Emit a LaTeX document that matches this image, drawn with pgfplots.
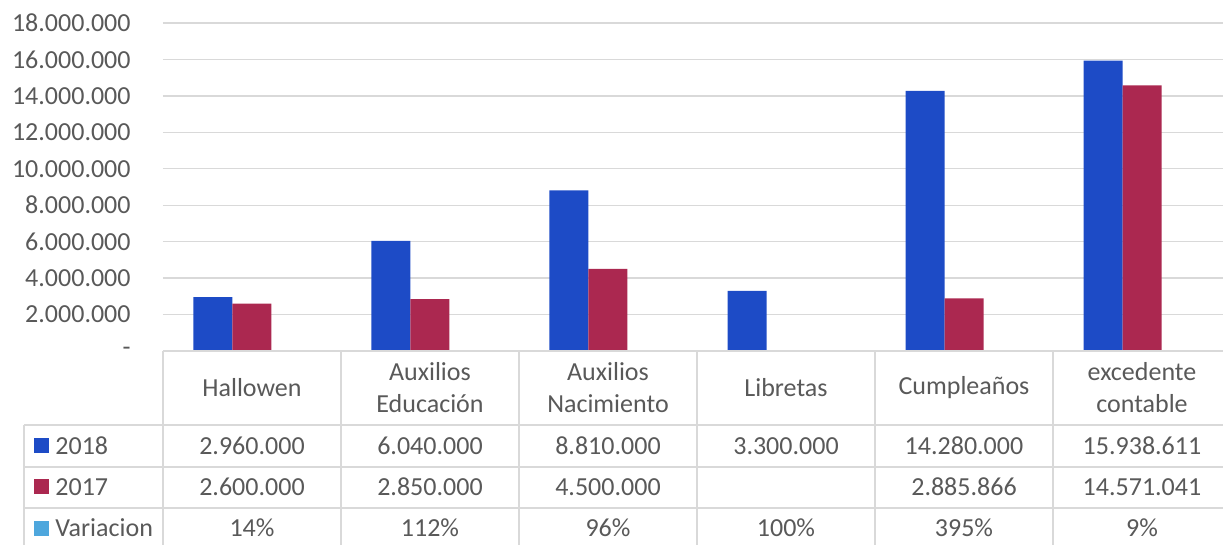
\documentclass[border=0pt]{standalone}
\usepackage{pgfplots}
\pgfplotsset{compat=1.18}
\usepackage{fontspec}
\setmainfont{Carlito}
\definecolor{txt}{HTML}{595959}
\definecolor{gridc}{HTML}{D9D9D9}
\definecolor{c18}{HTML}{1D4BC6}
\definecolor{c17}{HTML}{AB2850}
\definecolor{cvar}{HTML}{4EA7DD}
\begin{document}
\fontsize{13}{15.6}\selectfont
\begin{tikzpicture}
\path[use as bounding box] (0pt,0pt) rectangle (611.5pt,-272.5pt);
\begin{axis}[
  at={(81.5pt,-175.5pt)}, anchor=south west,
  scale only axis, width=534pt, height=164pt,
  xmin=-0.5, xmax=5.5, ymin=0, ymax=18000000,
  ybar=0pt, bar width=19.5pt,
  axis line style={draw=none},
  ymajorgrids, grid style={gridc, line width=0.7pt},
  ytick={0,2000000,4000000,6000000,8000000,10000000,12000000,14000000,16000000,18000000},
  yticklabels={{-\hspace{6.5pt}},2.000.000,4.000.000,6.000.000,8.000.000,10.000.000,12.000.000,14.000.000,16.000.000,18.000.000},
  xtick=\empty, major tick length=0,
  scaled y ticks=false,
  tick label style={font=\fontsize{13}{15.6}\selectfont, text=txt},
  yticklabel style={inner sep=0pt, anchor=east, xshift=-16pt},
  clip=false,
]
\addplot[fill=c18, draw=none] coordinates {(0,2960000) (1,6040000) (2,8810000) (3,3300000) (4,14280000) (5,15938611)};
\addplot[fill=c17, draw=none] coordinates {(0,2600000) (1,2850000) (2,4500000) (4,2885866) (5,14571041)};
\addplot[fill=cvar, draw=none] coordinates {(0,0.14) (1,1.12) (2,0.96) (3,1.00) (4,3.95) (5,0.09)};
\end{axis}
\begin{scope}[x=0.5pt,y=-0.5pt]
  % table lines
  \draw[gridc, line width=0.75pt] (163,351) -- (1240,351);
  \foreach \yy in {425,467,508} \draw[gridc, line width=0.75pt] (24,\yy) -- (1240,\yy);
  \draw[gridc, line width=0.75pt] (24,425) -- (24,560);
  \foreach \xx in {163,341,519,697,875,1053} \draw[gridc, line width=0.75pt] (\xx,351) -- (\xx,560);
  % header
  \begin{scope}[every node/.style={text=txt, inner sep=0pt}]
  \node at (252,388) {Hallowen};
  \node at (430,372) {Auxilios};
  \node at (430,404) {Educación};
  \node at (608,372) {Auxilios};
  \node at (608,404) {Nacimiento};
  \node at (786,388) {Libretas};
  \node at (964,388) {Cumpleaños};
  \node at (1142,372) {excedente};
  \node at (1142,404) {contable};
  % legend keys
  \fill[c18] (34,438) rectangle (49,453);
  \fill[c17] (34,479) rectangle (49,494);
  \fill[cvar] (34,521) rectangle (49,536);
  \node[anchor=west] at (55,446) {2018};
  \node[anchor=west] at (55,487) {2017};
  \node[anchor=west] at (55,528) {Variacion};
  % row 2018
  \node at (252,446) {2.960.000};
  \node at (430,446) {6.040.000};
  \node at (608,446) {8.810.000};
  \node at (786,446) {3.300.000};
  \node at (964,446) {14.280.000};
  \node at (1142,446) {15.938.611};
  % row 2017
  \node at (252,487) {2.600.000};
  \node at (430,487) {2.850.000};
  \node at (608,487) {4.500.000};
  \node at (964,487) {2.885.866};
  \node at (1142,487) {14.571.041};
  % row variacion
  \node at (252,528) {14\%};
  \node at (430,528) {112\%};
  \node at (608,528) {96\%};
  \node at (786,528) {100\%};
  \node at (964,528) {395\%};
  \node at (1142,528) {9\%};
  \end{scope}
\end{scope}
\end{tikzpicture}
\end{document}
